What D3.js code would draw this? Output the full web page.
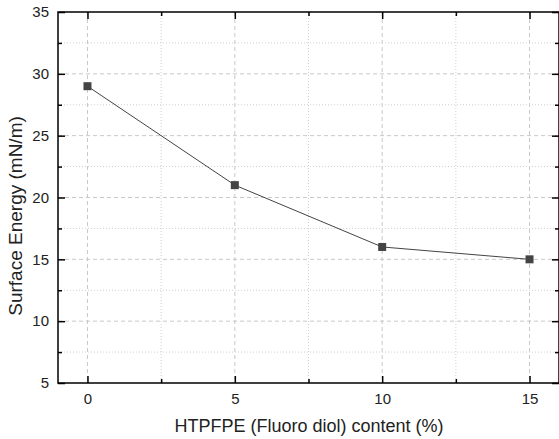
<!DOCTYPE html>
<head>
  <meta charset="utf-8">
  <style>
    body { margin: 0; background: #fff; }
    text { font-family: 'Liberation Sans', Arial, sans-serif; fill: #222; }
  </style>
</head>
<body>
  <script src="https://cdn.jsdelivr.net/npm/d3@7"></script>
  <script>
    // data
    const content = [0, 5, 10, 15];
    const energy = [29, 21, 16, 15];
    const xTicks = [0, 5, 10, 15];
    const yTicks = [5, 10, 15, 20, 25, 30, 35];

    const width = 559, height = 439;
    const margin = {top: 12, right: 0, bottom: 56, left: 58};
    const innerWidth = width - margin.left - margin.right;
    const innerHeight = height - margin.top - margin.bottom;

    const svg = d3.select("body").append("svg")
      .attr("width", width).attr("height", height);
    const g = svg.append("g")
      .attr("transform", "translate(" + margin.left + "," + margin.top + ")");

    const x = d3.scaleLinear().domain([-1, 16]).range([0, innerWidth]);
    const y = d3.scaleLinear().domain([5, 35]).range([innerHeight, 0]);

    const xMinor = d3.range(-0, 16, 2.5).filter(v => !xTicks.includes(v));
    const yMinor = d3.range(7.5, 35, 5);

    // grid: major dashed, minor dotted
    const grid = g.append("g");
    grid.selectAll(".vmaj").data(xTicks).enter().append("line")
      .attr("x1", d => x(d)).attr("x2", d => x(d))
      .attr("y1", 0).attr("y2", innerHeight)
      .attr("stroke", "#c8c8c8").attr("stroke-dasharray", "4,3");
    grid.selectAll(".vmin").data(xMinor).enter().append("line")
      .attr("x1", d => x(d)).attr("x2", d => x(d))
      .attr("y1", 0).attr("y2", innerHeight)
      .attr("stroke", "#d0d0d0").attr("stroke-dasharray", "1,2");
    grid.selectAll(".hmaj").data(yTicks.slice(1, -1)).enter().append("line")
      .attr("y1", d => y(d)).attr("y2", d => y(d))
      .attr("x1", 0).attr("x2", innerWidth)
      .attr("stroke", "#c8c8c8").attr("stroke-dasharray", "4,3");
    grid.selectAll(".hmin").data(yMinor).enter().append("line")
      .attr("y1", d => y(d)).attr("y2", d => y(d))
      .attr("x1", 0).attr("x2", innerWidth)
      .attr("stroke", "#d0d0d0").attr("stroke-dasharray", "1,2");

    // axes with inward ticks
    function styleAxis(sel) {
      sel.select(".domain").remove();
      sel.selectAll("line").attr("stroke", "#000").attr("stroke-width", 1.5);
      sel.selectAll("text").style("font-size", "15px").attr("fill", "#222");
    }
    // tick-only axes: drop the empty labels
    function ticksOnly(sel) {
      styleAxis(sel);
      sel.selectAll("text").remove();
    }
    g.append("g").attr("transform", "translate(0," + innerHeight + ")")
      .call(d3.axisBottom(x).tickValues(xTicks).tickSize(-7).tickPadding(10))
      .call(styleAxis);
    g.append("g").attr("transform", "translate(0," + innerHeight + ")")
      .call(d3.axisBottom(x).tickValues(xMinor).tickSize(-4))
      .call(ticksOnly);
    g.append("g")
      .call(d3.axisTop(x).tickValues(xTicks).tickSize(-7))
      .call(ticksOnly);
    g.append("g")
      .call(d3.axisTop(x).tickValues(xMinor).tickSize(-4))
      .call(ticksOnly);
    g.append("g")
      .call(d3.axisLeft(y).tickValues(yTicks).tickSize(-7).tickPadding(9))
      .call(styleAxis);
    g.append("g")
      .call(d3.axisLeft(y).tickValues(yMinor).tickSize(-4))
      .call(ticksOnly);
    g.append("g").attr("transform", "translate(" + innerWidth + ",0)")
      .call(d3.axisRight(y).tickValues(yTicks).tickSize(-7))
      .call(ticksOnly);
    g.append("g").attr("transform", "translate(" + innerWidth + ",0)")
      .call(d3.axisRight(y).tickValues(yMinor).tickSize(-4))
      .call(ticksOnly);

    // frame
    g.append("rect").attr("x", 0).attr("y", 0)
      .attr("width", innerWidth).attr("height", innerHeight)
      .attr("fill", "none").attr("stroke", "#000").attr("stroke-width", 1.5);

    // series
    const pts = content.map((c, i) => ({x: c, y: energy[i]}));
    g.append("path").datum(pts)
      .attr("fill", "none").attr("stroke", "#444").attr("stroke-width", 1)
      .attr("d", d3.line().x(d => x(d.x)).y(d => y(d.y)));
    g.selectAll(".pt").data(pts).enter().append("rect")
      .attr("x", d => x(d.x) - 4).attr("y", d => y(d.y) - 4)
      .attr("width", 8).attr("height", 8)
      .attr("fill", "#444");

    // axis titles
    svg.append("text")
      .attr("x", 309).attr("y", 432)
      .attr("text-anchor", "middle").style("font-size", "18px")
      .text("HTPFPE (Fluoro diol) content (%)");
    svg.append("text")
      .attr("transform", "translate(22,216) rotate(-90)")
      .attr("text-anchor", "middle").style("font-size", "19px")
      .text("Surface Energy (mN/m)");
  </script>
</body>
